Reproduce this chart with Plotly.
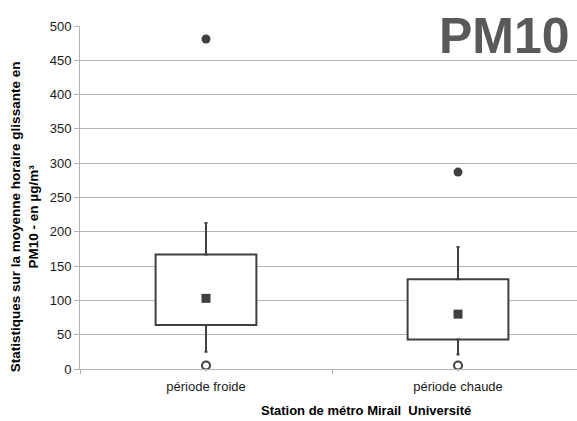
import plotly.graph_objects as go

categories = ["période froide", "période chaude"]
q1 = [64, 43]
q3 = [167, 131]
whisker_low = [25, 21]
whisker_high = [213, 178]
means = [103, 80]
maxima = [481, 287]
minima = [5, 5]
y_ticks = [0, 50, 100, 150, 200, 250, 300, 350, 400, 450, 500]

pos = list(range(len(categories)))
dark = "#404040"
grid = "#b3b3b3"
font = "Liberation Sans, Arial, sans-serif"

fig = go.Figure()
# boxes (q1 -> q3)
fig.add_trace(go.Bar(x=pos, base=q1, y=[b - a for a, b in zip(q1, q3)], width=0.4,
                     marker=dict(color="white", line=dict(color=dark, width=2)),
                     showlegend=False, hoverinfo="skip"))
# upper whiskers
fig.add_trace(go.Scatter(x=pos, y=q3, mode="markers", marker=dict(size=0.1, color=dark),
                         error_y=dict(type="data", symmetric=False,
                                      array=[h - t for h, t in zip(whisker_high, q3)],
                                      arrayminus=[0, 0], thickness=2, width=1.5, color=dark),
                         showlegend=False, hoverinfo="skip"))
# lower whiskers
fig.add_trace(go.Scatter(x=pos, y=q1, mode="markers", marker=dict(size=0.1, color=dark),
                         error_y=dict(type="data", symmetric=False, array=[0, 0],
                                      arrayminus=[b - l for b, l in zip(q1, whisker_low)],
                                      thickness=2, width=1.5, color=dark),
                         showlegend=False, hoverinfo="skip"))
fig.add_trace(go.Scatter(x=pos, y=means, mode="markers",
                         marker=dict(symbol="square", size=9, color=dark),
                         showlegend=False))
fig.add_trace(go.Scatter(x=pos, y=maxima, mode="markers",
                         marker=dict(symbol="circle", size=9, color=dark),
                         showlegend=False))
fig.add_trace(go.Scatter(x=pos, y=minima, mode="markers",
                         marker=dict(symbol="circle", size=8, color="white",
                                     line=dict(color=dark, width=2)),
                         showlegend=False, cliponaxis=False))
fig.add_trace(go.Scatter(x=[0], y=[None], xaxis="x2", showlegend=False))

xr = [-0.5, 1.5 - 7 / 252]
fig.update_layout(
    width=577, height=421,
    margin=dict(l=80, r=0, t=26, b=51.5),
    paper_bgcolor="white", plot_bgcolor="white",
    font=dict(family=font, size=13, color="#1a1a1a"),
    xaxis=dict(range=xr, tickvals=pos, ticktext=categories, ticks="",
               showgrid=False, zeroline=False, showline=True, ticklabelstandoff=5,
               linecolor=grid, linewidth=1, tickfont=dict(size=13)),
    xaxis2=dict(range=xr, overlaying="x", tickvals=[-0.5, 0.5, 1.5],
                ticks="outside", ticklen=4, tickcolor=grid, showticklabels=False,
                showgrid=False, zeroline=False, side="bottom", anchor="y"),
    yaxis=dict(range=[0, 500], tickvals=y_ticks, ticks="outside", ticklen=5,
               tickcolor=grid, showgrid=True, gridcolor=grid, gridwidth=1,
               zeroline=False, showline=True, linecolor=grid, linewidth=1,
               tickfont=dict(size=13)),
    annotations=[
        dict(text="<b>Statistiques sur la moyenne horaire glissante en<br>PM10 - en µg/m³</b>",
             xref="paper", yref="paper", x=-0.111, y=0.445, textangle=-90,
             showarrow=False, font=dict(size=13.5, color="#000"), align="center",
             xanchor="center", yanchor="middle"),
        dict(text="<b>Station de métro Mirail  Université</b>",
             xref="paper", yref="paper", x=0.576, y=-0.12,
             showarrow=False, font=dict(size=13, color="#000"),
             xanchor="center", yanchor="middle"),
        dict(text="PM10", xref="paper", yref="paper", x=0.99, y=0.972,
             showarrow=False, xanchor="right", yanchor="middle",
             font=dict(family="Liberation Sans, Arial, sans-serif", weight="bold",
                       size=50, color="#595959")),
    ],
)

fig.write_html("out.html", config={"displayModeBar": False},
               post_script="document.body.style.margin='0px';")
